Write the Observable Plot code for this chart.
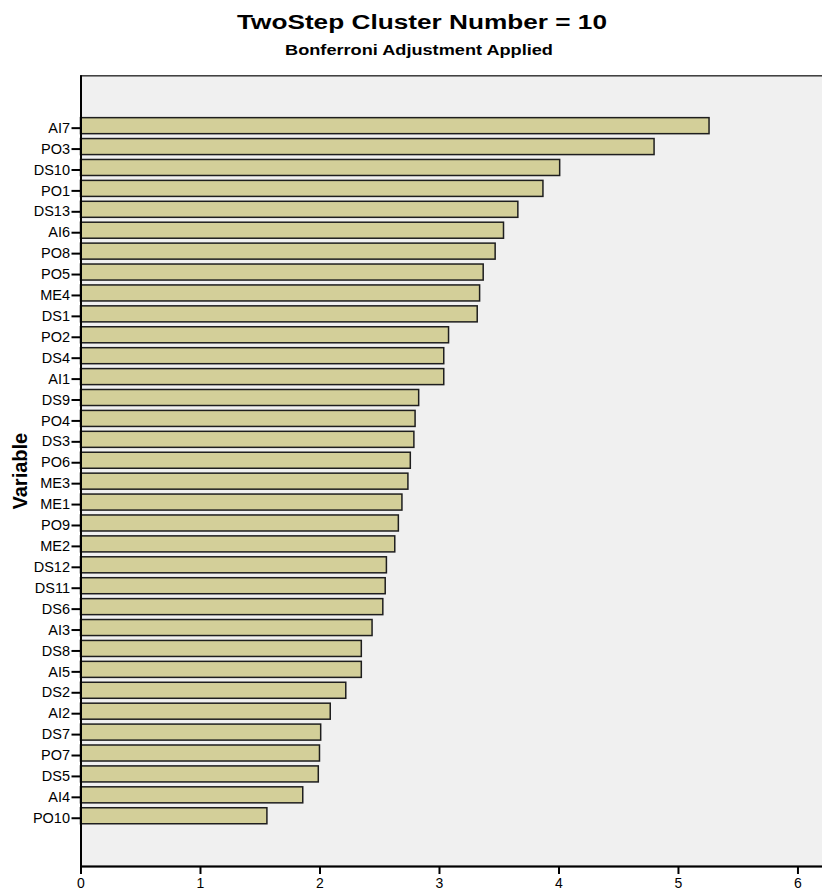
<!DOCTYPE html>
<html>
<head>
<meta charset="utf-8">
<script src="https://cdn.jsdelivr.net/npm/d3@7"></script>
<script src="https://cdn.jsdelivr.net/npm/@observablehq/plot@0.6"></script>
<style>
  html, body { margin: 0; padding: 0; background: #fff; overflow: hidden; }
  body { width: 822px; height: 890px; font-family: "Liberation Sans", Arial, sans-serif; }
  #header { position: relative; height: 66px; }
  .ttl { position: absolute; white-space: nowrap; font-weight: bold; color: #000; }
  #title { left: 422px; top: 12px; font-size: 20px; line-height: 20px; transform: translateX(-50%) scaleX(1.31); }
  #subtitle { left: 418.5px; top: 42px; font-size: 15px; line-height: 15px; transform: translateX(-50%) scaleX(1.21); }
  #chart { width: 822px; overflow: hidden; }
  #chart svg { display: block; max-width: none !important; }
</style>
</head>
<body>
<div id="header">
  <div id="title" class="ttl">TwoStep Cluster Number = 10</div>
  <div id="subtitle" class="ttl">Bonferroni Adjustment Applied</div>
</div>
<div id="chart"></div>
<script>
const names = ["AI7","PO3","DS10","PO1","DS13","AI6","PO8","PO5","ME4","DS1","PO2","DS4","AI1","DS9","PO4","DS3","PO6","ME3","ME1","PO9","ME2","DS12","DS11","DS6","AI3","DS8","AI5","DS2","AI2","DS7","PO7","DS5","AI4","PO10"];
const values = [5.26,4.80,4.01,3.87,3.66,3.54,3.47,3.37,3.34,3.32,3.08,3.04,3.04,2.83,2.80,2.79,2.76,2.74,2.69,2.66,2.63,2.56,2.55,2.53,2.44,2.35,2.35,2.22,2.09,2.01,2.00,1.99,1.86,1.56];
const xTicks = [0,1,2,3,4,5,6];
const yTitle = "Variable";

const data = names.map((name, i) => ({name, value: values[i]}));

const chart = Plot.plot({
  width: 840,
  height: 824,
  marginLeft: 80.5,
  marginRight: 0,
  marginTop: 9.3,
  marginBottom: 24,
  style: {fontFamily: "'Liberation Sans', Arial, sans-serif", color: "#000", background: "transparent", maxWidth: "none"},
  x: {domain: [0, 6.356]},
  y: {domain: names, range: [49.2, 760.2], paddingInner: 0.234, paddingOuter: 0.117},
  marks: [
    Plot.frame({fill: "#f0f0f0", stroke: "#3a3a3a", strokeWidth: 1.5}),
    Plot.barX(data, {x: "value", y: "name", fill: "#d3cf99", stroke: "#1e1e1e", strokeWidth: 1.5}),
    Plot.ruleX([0], {stroke: "#000", strokeWidth: 2}),
    Plot.frame({anchor: "bottom", stroke: "#000", strokeWidth: 2}),
    Plot.axisX({ticks: xTicks, tickSize: 8, tickPadding: 3.5, fontSize: 14, strokeWidth: 2, label: null, tickFormat: d => String(d)}),
    Plot.axisY({tickSize: 9, tickPadding: 2, fontSize: 14.5, strokeWidth: 2, label: null, dy: 2}),
    Plot.text([yTitle], {frameAnchor: "left", textAnchor: "middle", lineAnchor: "middle", dx: -60, rotate: -90, fontWeight: "bold", fontSize: 20, fill: "#000"})
  ]
});
document.getElementById("chart").appendChild(chart);
</script>
</body>
</html>
